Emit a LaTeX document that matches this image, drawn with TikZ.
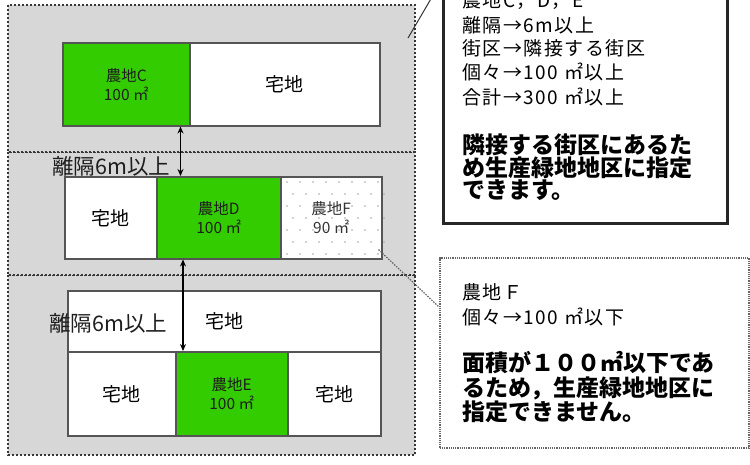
\documentclass[tikz,border=0pt]{standalone}
\usepackage{fontspec}
\setmainfont{Noto Sans CJK JP}
\usetikzlibrary{calc,arrows.meta}
\definecolor{blockgray}{RGB}{215,215,215}
\definecolor{dotgray}{RGB}{55,55,55}
\definecolor{lotgray}{RGB}{85,85,85}
\definecolor{farmgreen}{RGB}{51,204,0}
\definecolor{txtdark}{RGB}{30,30,30}
\tikzset{
  block/.style={fill=blockgray, draw=dotgray, line width=2.4pt, dash pattern=on 2.2pt off 1.8pt},
  lot/.style={draw=lotgray, line width=1.5pt, fill=white, inner sep=0, anchor=north west,
    font=\fontsize{19}{19}\selectfont},
  farm/.style={lot, fill=farmgreen, align=center, text=txtdark, font=\fontsize{15.5}{19}\selectfont},
  seplbl/.style={font=\fontsize{21.5}{21.5}\selectfont, text=txtdark, anchor=west, inner sep=0},
  arr/.style={{Stealth[length=7pt,width=6pt]}-{Stealth[length=7pt,width=6pt]}, line width=1.2pt},
  notebox/.style={anchor=north west, inner sep=0, fill=white},
  note/.style={font=\fontsize{19}{19}\selectfont\addfontfeature{LetterSpace=8}, anchor=west, inner sep=0},
  bnote/.style={font=\fontsize{23}{23}\selectfont\bfseries, anchor=west, inner sep=0},
}
\begin{document}
\begin{tikzpicture}[x=1pt,y=-1pt]
\clip (0,0) rectangle (750,464);
\fill[white] (0,0) rectangle (750,464);

% blocks
\draw[block] (8,275) rectangle (415,455);
\draw[block] (8,152) rectangle (415,275);
\draw[block] (8,5) rectangle (415,152);
\coordinate (b1ne) at (415,5);

% row C
\node[farm, minimum width=127pt, minimum height=83pt] (C) at (62,42) {農地C\\100 ㎡};
\node[lot, minimum width=190pt, minimum height=83pt] (Cw) at (189,42) {宅地};

% row D
\node[lot, minimum width=92pt, minimum height=82pt] (Dw) at (64,176) {宅地};
\node[farm, minimum width=124pt, minimum height=82pt] (D) at (156,176) {農地D\\100 ㎡};
\node[lot, minimum width=101pt, minimum height=82pt] (F) at (280,176) {};
\foreach \i in {0,...,7}{
  \foreach \j in {0,...,6}{
    \fill[gray!70] ({287+\i*13+mod(\j,2)*6},{182+\j*12}) circle (0.8pt);
  }
}
\node[align=center, text=gray!40!black, font=\fontsize{15.5}{19}\selectfont] (Ft) at (F.center) {農地F\\90 ㎡};

% row E
\node[lot, minimum width=313pt, minimum height=61pt] (Et) at (67,290) {\raisebox{-3pt}{宅地}};
\node[lot, minimum width=108pt, minimum height=84pt] (Ew1) at (67,351) {宅地};
\node[farm, minimum width=112pt, minimum height=84pt] (E) at (175,351) {農地E\\100 ㎡};
\node[lot, minimum width=93pt, minimum height=84pt] (Ew2) at (287,351) {宅地};

% arrows
\draw[arr] ([xshift=-10pt]C.south east) -- ([xshift=-10pt]C.south east |- D.north);
\draw[arr] ([xshift=27pt]D.south west) -- ([xshift=27pt]D.south west |- E.north);

% separation labels
\node[seplbl] (s1) at (52,166) {離隔6m以上};
\node[seplbl] (s2) at (49,323) {離隔6m以上};

% callout 1
\node[notebox, draw=black!85, line width=2.5pt, minimum width=284pt, minimum height=227pt] (n1) at (442,-5) {};
\draw[line width=1pt, black!80] ([yshift=15pt]n1.north west) -- ($(b1ne)+(-7,33)$);
\node[note] (n1a) at (462,1) {農地C，D，E};
\node[note] (n1b) at (462,25) {離隔→6m以上};
\node[note] (n1c) at (462,48) {街区→隣接する街区};
\node[note] (n1d) at (462,72) {個々→100 ㎡以上};
\node[note] (n1e) at (462,97) {合計→300 ㎡以上};
\node[bnote] (n1f) at (462,145) {隣接する街区にあるた};
\node[bnote] (n1g) at (462,168) {め生産緑地地区に指定};
\node[bnote] (n1h) at (462,190) {できます。};

% callout 2
\node[notebox, draw=gray!80!black, line width=1.5pt, dash pattern=on 1.2pt off 1pt, minimum width=309pt, minimum height=190pt] (n2) at (439,257) {};
\draw[line width=1.2pt, gray!80!black, dash pattern=on 1.5pt off 1.2pt] ($(F.south east)+(-4,-10)$) -- ([yshift=-50pt]n2.north west);
\node[note] (n2a) at (462,292) {農地Ｆ};
\node[note] (n2b) at (462,317) {個々→100 ㎡以下};
\node[bnote] (n2c) at (462,363) {面積が１００㎡以下であ};
\node[bnote] (n2d) at (462,388) {るため，生産緑地地区に};
\node[bnote] (n2e) at (462,412) {指定できません。};
\end{tikzpicture}
\end{document}
